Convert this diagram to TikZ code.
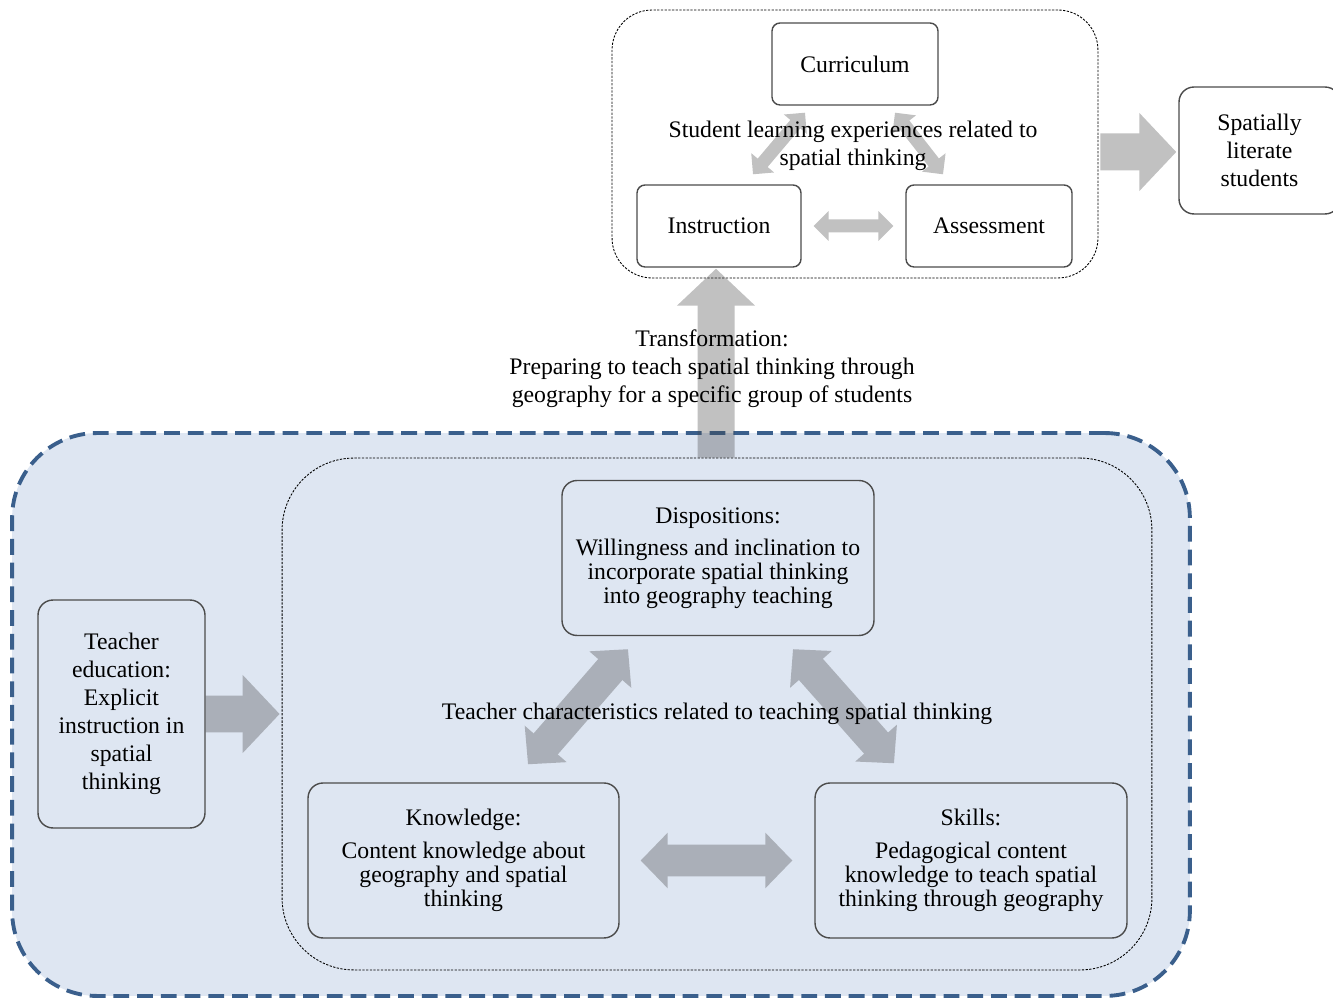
\documentclass[tikz,border=0pt]{standalone}
\usepackage{fontspec}
\setmainfont{Liberation Serif}
\usetikzlibrary{calc,arrows.meta}
\definecolor{regionblue}{RGB}{222,230,242}
\definecolor{dashblue}{RGB}{58,95,140}

\begin{document}
\begin{tikzpicture}[x=0.02cm,y=-0.02cm,font=\fontsize{13.5}{16}\selectfont]
\tikzstyle{box}=[anchor=center,rectangle,rounded corners=0.16cm,draw=black!70,line width=0.8pt,fill=white,minimum height=1.64cm,text centered]
\tikzstyle{trait}=[anchor=center,rectangle,rounded corners=0.3cm,draw=black!70,line width=0.8pt,minimum width=6.24cm,minimum height=3.1cm,align=center,font=\fontsize{13.5}{13.6}\selectfont]
\tikzstyle{frame}=[anchor=center,rectangle,draw=black,dash pattern=on 1.3pt off 0.8pt,line width=0.5pt]
\tikzstyle{slim}=[draw=black!74,line width=0.26cm,{Triangle[length=0.3cm,width=0.58cm]}-{Triangle[length=0.3cm,width=0.58cm]}]
\tikzstyle{broad}=[draw=black!74,line width=0.64cm,{Triangle[length=0.54cm,width=1.08cm]}-{Triangle[length=0.54cm,width=1.08cm]}]
\tikzstyle{fat}=[draw=black!74,line width=0.74cm,-{Triangle[length=0.74cm,width=1.52cm]}]

\useasboundingbox (0,0) rectangle (1333,999);

% teacher side
\node [frame,fill=regionblue,draw=dashblue,line width=2.2pt,dash pattern=on 9pt off 4.5pt,rounded corners=1.7cm,minimum width=23.56cm,minimum height=11.26cm] at (601,714.5) (region) {};
\node [frame,rounded corners=1.44cm,minimum width=17.4cm,minimum height=10.24cm] at (717,714) (inner) {};
\node [trait,rounded corners=0.3cm,minimum width=3.34cm,minimum height=4.56cm,font=\fontsize{13.5}{16}\selectfont] at (121.5,714) (teach) {Teacher\\education:\\Explicit\\instruction in\\spatial\\thinking};
\node [trait] at (718,558) (disp) {Dispositions:\\[5pt]Willingness and inclination to\\incorporate spatial thinking\\into geography teaching};
\node [trait,minimum width=6.22cm] at (463.5,860.5) (know) {Knowledge:\\[5pt]Content knowledge about\\geography and spatial\\thinking};
\node [trait] at (971,860.5) (skill) {Skills:\\[5pt]Pedagogical content\\knowledge to teach spatial\\thinking through geography};

% student side
\node [frame,rounded corners=0.8cm,minimum width=9.72cm,minimum height=5.36cm] at (855,144) (experience) {};
\node [box,minimum width=3.32cm] at (855,64) (curr) {Curriculum};
\node [box,minimum width=3.28cm] at (719,226) (instr) {Instruction};
\node [box,minimum width=3.32cm] at (989,226) (assess) {Assessment};
\node [box,rounded corners=0.3cm,minimum width=3.22cm,minimum height=2.54cm,align=center] at (1259.5,150.5) (spatial) {Spatially\\literate\\students};

\begin{scope}[transparency group,opacity=0.33]
\draw [slim] ($(curr.south)+(-50,7)$) -- ($(instr.north)+(34,-10)$);
\draw [slim] ($(curr.south)+(40,7)$) -- ($(assess.north)+(-46,-10)$);
\draw [slim] ($(instr.east)+(12,0)$) -- ($(assess.west)+(-12,0)$);
\draw [fat] ($(experience.east)+(2,8)$) -- ($(experience.east -| spatial.west)+(-2,8)$);
\draw [fat] ($(inner.north)+(-1,0)$) -- ($(instr.south)+(-3,1)$);
\draw [fat] (teach.east) -- ($(teach.east -| inner.west)+(-2,0)$);
\draw [broad] ($(disp.south)+(-90,13)$) -- ($(know.north)+(64.5,-18)$);
\draw [broad] ($(disp.south)+(75,13)$) -- ($(skill.north)+(-77,-19)$);
\draw [broad] ($(know.east)+(21,0)$) -- ($(skill.west)+(-22,0)$);
\end{scope}

\node [align=center] at (853,146) (learn) {Student learning experiences related to\\spatial thinking};
\node [align=center] at (712,369) (transf) {Transformation:\\Preparing to teach spatial thinking through\\geography for a specific group of students};
\node at (717,714) (chars) {Teacher characteristics related to teaching spatial thinking};
\end{tikzpicture}
\end{document}
